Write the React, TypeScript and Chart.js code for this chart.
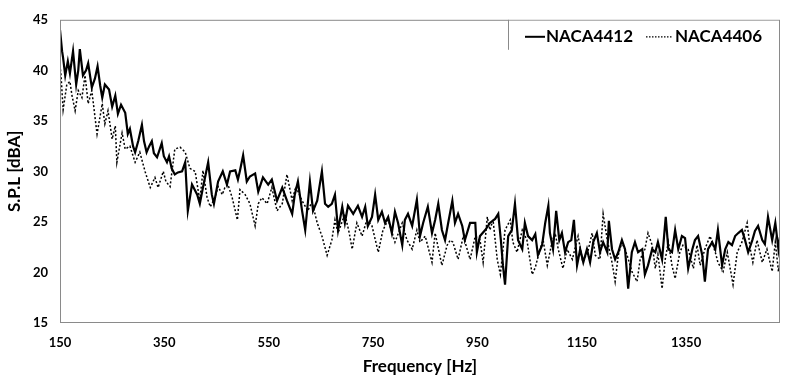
import React, { useEffect, useRef } from "react";
import { Chart, registerables } from "chart.js";

Chart.register(...registerables);

// NACA4412 (solid)
const freqA = [
  150, 154, 156, 160, 165, 169, 175, 181, 185, 188, 194, 200, 204, 211, 217, 222, 227, 231, 236, 244,
  250, 256, 261, 267, 275, 280, 284, 290, 294, 300, 307, 311, 316, 321, 326, 330, 336, 340, 345, 349,
  355, 359, 364, 370, 376, 384, 390, 395, 403, 413, 418, 424, 434, 441, 445, 453, 462, 470, 476, 486,
  491, 495, 501, 508, 514, 524, 530, 539, 549, 556, 566, 576, 585, 595, 600, 606, 614, 620, 629, 635,
  643, 652, 658, 664, 671, 677, 683, 691, 696, 702, 712, 721, 729, 735, 740, 748, 754, 760, 767, 773,
  779, 786, 792, 798, 806, 811, 817, 825, 834, 840, 846, 855, 863, 869, 875, 882, 888, 894, 902, 907,
  913, 921, 926, 936, 946, 949, 955, 965, 974, 984, 990, 995, 999, 1003, 1009, 1016, 1022, 1028, 1036, 1041,
  1047, 1055, 1061, 1066, 1074, 1080, 1086, 1089, 1095, 1101, 1107, 1112, 1118, 1124, 1130, 1135, 1141, 1147, 1153, 1160,
  1166, 1172, 1179, 1185, 1191, 1199, 1202, 1208, 1214, 1220, 1227, 1233, 1239, 1246, 1252, 1258, 1266, 1271, 1277, 1285,
  1291, 1296, 1304, 1311, 1316, 1323, 1329, 1335, 1342, 1348, 1354, 1362, 1367, 1373, 1381, 1386, 1392, 1400, 1406, 1411,
  1419, 1425, 1431, 1438, 1444, 1450, 1457, 1463, 1469, 1477, 1482, 1488, 1496, 1501, 1507, 1515, 1521, 1527, 1530,
];
const splA = [
  44.0, 41.9, 41.2, 39.5, 40.9, 39.7, 41.9, 38.6, 40.0, 42.1, 39.5, 40.0, 40.7, 38.3, 39.2, 40.4, 38.5, 37.3, 38.6, 38.1,
  36.4, 37.5, 35.7, 36.6, 35.8, 33.7, 34.2, 32.5, 31.9, 33.0, 34.6, 33.0, 31.9, 32.5, 33.0, 31.8, 31.4, 32.0, 32.8, 31.5,
  30.9, 31.5, 30.3, 29.7, 29.9, 30.0, 30.9, 26.1, 28.7, 27.7, 26.8, 28.4, 30.9, 27.7, 26.8, 29.0, 30.0, 28.7, 30.0, 30.1,
  29.2, 30.1, 31.6, 29.0, 29.5, 29.8, 28.0, 29.4, 28.7, 29.2, 27.1, 28.4, 27.1, 25.8, 27.7, 29.0, 26.1, 24.2, 29.0, 26.1,
  27.1, 30.0, 26.8, 26.5, 26.8, 27.7, 24.2, 26.5, 24.9, 26.6, 25.8, 26.6, 25.5, 26.5, 24.6, 25.5, 27.7, 25.2, 26.0, 24.9,
  25.5, 23.9, 26.0, 24.9, 22.7, 25.2, 25.8, 24.6, 27.2, 23.6, 24.9, 26.5, 23.9, 25.2, 26.8, 24.2, 23.2, 24.9, 27.1, 24.9,
  25.8, 24.6, 23.2, 24.9, 24.9, 22.0, 23.6, 24.2, 24.9, 25.3, 25.8, 23.2, 20.7, 18.8, 23.6, 24.2, 26.8, 23.2, 22.3, 24.9,
  23.6, 23.2, 23.8, 21.7, 22.7, 24.9, 26.6, 23.9, 22.3, 26.1, 23.2, 23.9, 22.0, 23.0, 23.2, 25.2, 20.7, 22.3, 21.0, 22.3,
  21.0, 23.0, 23.9, 22.0, 23.0, 22.0, 25.1, 22.3, 21.3, 22.0, 23.2, 22.3, 18.4, 22.0, 23.0, 22.0, 22.3, 19.8, 20.7, 22.3,
  22.0, 23.0, 21.3, 25.5, 22.3, 22.0, 24.2, 22.3, 23.6, 23.4, 20.4, 22.3, 23.2, 23.6, 21.7, 19.1, 22.3, 23.0, 22.3, 24.2,
  20.7, 22.3, 23.0, 22.7, 23.6, 23.9, 24.2, 23.2, 22.0, 23.2, 24.1, 24.6, 23.2, 22.8, 25.5, 23.2, 24.9, 22.3, 23.5,
];

// NACA4406 (dotted)
const freqB = [
  150, 152, 156, 160, 163, 169, 173, 179, 185, 192, 198, 204, 211, 217, 221, 231, 236, 242, 250, 256,
  259, 269, 275, 284, 294, 303, 313, 323, 332, 338, 348, 353, 361, 370, 380, 390, 399, 409, 418, 424,
  432, 438, 447, 453, 461, 466, 472, 480, 490, 495, 505, 514, 524, 530, 537, 547, 556, 566, 576, 585,
  595, 602, 614, 625, 633, 643, 652, 662, 671, 677, 683, 696, 704, 710, 719, 729, 738, 748, 760, 769,
  779, 792, 806, 815, 825, 834, 840, 850, 863, 869, 882, 892, 898, 903, 913, 923, 936, 946, 955, 961,
  969, 974, 980, 988, 994, 1003, 1013, 1018, 1026, 1036, 1045, 1055, 1061, 1070, 1076, 1084, 1093, 1099, 1105, 1114,
  1122, 1132, 1143, 1151, 1160, 1170, 1176, 1185, 1191, 1199, 1208, 1214, 1220, 1227, 1237, 1246, 1256, 1262, 1271, 1277,
  1285, 1291, 1296, 1304, 1310, 1316, 1323, 1329, 1338, 1344, 1354, 1364, 1371, 1377, 1386, 1396, 1406, 1411, 1421, 1429,
  1440, 1448, 1457, 1467, 1473, 1478, 1486, 1496, 1505, 1515, 1521, 1527, 1530,
];
const splB = [
  40.5, 39.5, 36.1, 37.5, 38.6, 38.9, 37.5, 36.0, 38.0, 37.3, 39.5, 36.7, 38.0, 35.4, 33.7, 36.7, 34.7, 36.0, 33.2, 34.5,
  30.9, 33.8, 32.2, 32.5, 30.9, 31.9, 30.0, 28.4, 29.4, 28.4, 30.0, 29.0, 28.5, 32.2, 32.4, 31.9, 30.3, 30.0, 27.1, 30.1,
  27.4, 26.5, 27.4, 28.5, 27.7, 28.4, 28.7, 27.4, 25.2, 28.2, 27.7, 26.8, 24.6, 26.8, 27.4, 26.8, 28.4, 26.1, 26.8, 29.7,
  27.1, 28.5, 27.1, 26.1, 27.0, 24.9, 23.6, 21.7, 23.2, 25.2, 23.9, 25.8, 24.0, 22.3, 24.9, 23.6, 25.2, 24.6, 22.0, 24.2,
  25.2, 23.0, 24.9, 23.2, 22.3, 24.2, 23.0, 23.6, 21.0, 23.9, 20.7, 22.7, 23.2, 23.0, 21.3, 23.6, 21.3, 23.6, 23.2, 21.0,
  25.5, 24.2, 25.2, 21.3, 19.8, 24.2, 25.2, 23.0, 22.0, 24.2, 23.2, 19.8, 20.5, 22.3, 23.2, 20.7, 23.0, 23.9, 22.3, 20.4,
  22.3, 21.3, 23.6, 21.3, 21.7, 23.9, 21.7, 21.3, 25.8, 23.2, 21.0, 19.1, 21.7, 23.0, 21.7, 20.1, 19.1, 21.3, 22.3, 23.9,
  22.7, 20.4, 21.8, 18.4, 21.3, 23.0, 20.7, 19.4, 22.0, 22.7, 22.3, 20.4, 22.7, 20.7, 22.3, 23.6, 22.0, 21.0, 20.1, 22.0,
  18.8, 22.0, 23.0, 24.9, 22.3, 21.0, 23.2, 21.0, 22.3, 20.1, 23.0, 20.1, 21.0,
];

const xTicks = [150, 350, 550, 750, 950, 1150, 1350];
const yTicks = [15, 20, 25, 30, 35, 40, 45];
const seriesNames = ["NACA4412", "NACA4406"];

const FONT = "Lato, 'Open Sans', sans-serif";

export default function App() {
  const ref = useRef<HTMLCanvasElement | null>(null);

  useEffect(() => {
    document.body.style.margin = "0";
    const canvas = ref.current;
    if (!canvas) return;

    const framePlugin = {
      id: "frameAndLegend",
      afterDraw(chart: any) {
        const { ctx, chartArea } = chart;
        const { left, right, top, bottom } = chartArea;
        ctx.save();
        ctx.strokeStyle = "#8a8a8a";
        ctx.lineWidth = 1;
        ctx.strokeRect(left + 0.5, top + 0.5, right - left - 1, bottom - top - 1);
        // legend box
        const lx = right - 272;
        ctx.fillStyle = "#ffffff";
        ctx.fillRect(lx + 1, top + 1, right - lx - 2, 30);
        ctx.beginPath();
        ctx.moveTo(lx + 0.5, top);
        ctx.lineTo(lx + 0.5, top + 30);
        ctx.stroke();
        const ly = top + 17;
        ctx.strokeStyle = "#000";
        ctx.lineWidth = 2;
        ctx.setLineDash([]);
        ctx.beginPath();
        ctx.moveTo(lx + 17, ly);
        ctx.lineTo(lx + 37, ly);
        ctx.stroke();
        ctx.fillStyle = "#000";
        ctx.font = `bold 17px ${FONT}`;
        ctx.textBaseline = "middle";
        ctx.textAlign = "left";
        ctx.fillText(seriesNames[0], lx + 38, ly);
        ctx.lineWidth = 1.2;
        ctx.setLineDash([1.5, 1.5]);
        ctx.beginPath();
        ctx.moveTo(lx + 138, ly);
        ctx.lineTo(lx + 164, ly);
        ctx.stroke();
        ctx.setLineDash([]);
        ctx.fillText(seriesNames[1], lx + 167, ly);
        ctx.restore();
      },
    };

    const chart = new Chart(canvas, {
      type: "line",
      data: {
        datasets: [
          {
            label: seriesNames[0],
            data: freqA.map((f, i) => ({ x: f, y: splA[i] })),
            borderColor: "#000",
            borderWidth: 2.2,
            pointRadius: 0,
            tension: 0,
            fill: false,
          },
          {
            label: seriesNames[1],
            data: freqB.map((f, i) => ({ x: f, y: splB[i] })),
            borderColor: "#000",
            borderWidth: 1.5,
            borderDash: [2, 2],
            pointRadius: 0,
            tension: 0,
            fill: false,
          },
        ],
      },
      options: {
        animation: false,
        responsive: false,
        maintainAspectRatio: false,
        layout: { padding: { top: 10, right: 20, left: 0, bottom: 0 } },
        plugins: { legend: { display: false }, tooltip: { enabled: false } },
        scales: {
          x: {
            type: "linear",
            min: 150,
            max: 1530,
            grid: { display: false, drawTicks: false },
            border: { display: false },
            afterBuildTicks: (scale: any) => {
              scale.ticks = xTicks.map((v) => ({ value: v }));
            },
            afterFit: (scale: any) => {
              scale.height = 58;
            },
            ticks: {
              autoSkip: false,
              maxRotation: 0,
              padding: 12,
              color: "#000",
              font: { family: FONT, size: 13, weight: "bold" },
              callback: (v: any) => String(v),
            },
            title: {
              display: true,
              text: "Frequency [Hz]",
              color: "#000",
              font: { family: FONT, size: 17, weight: "bold" },
              padding: { top: 6 },
            },
          },
          y: {
            min: 15,
            max: 45,
            grid: { display: false, drawTicks: false },
            border: { display: false },
            afterBuildTicks: (scale: any) => {
              scale.ticks = yTicks.map((v) => ({ value: v }));
            },
            afterFit: (scale: any) => {
              scale.width = 60;
            },
            ticks: {
              padding: 12,
              color: "#000",
              font: { family: FONT, size: 13, weight: "bold" },
              callback: (v: any) => String(v),
            },
            title: {
              display: true,
              text: "S.P.L [dBA]",
              color: "#000",
              font: { family: FONT, size: 17, weight: "bold" },
              padding: { bottom: 0 },
            },
          },
        },
      },
      plugins: [framePlugin],
    });

    return () => chart.destroy();
  }, []);

  return (
    <div style={{ width: 800, height: 381, background: "#fff" }}>
      <canvas ref={ref} width={800} height={381} style={{ display: "block" }} />
    </div>
  );
}
